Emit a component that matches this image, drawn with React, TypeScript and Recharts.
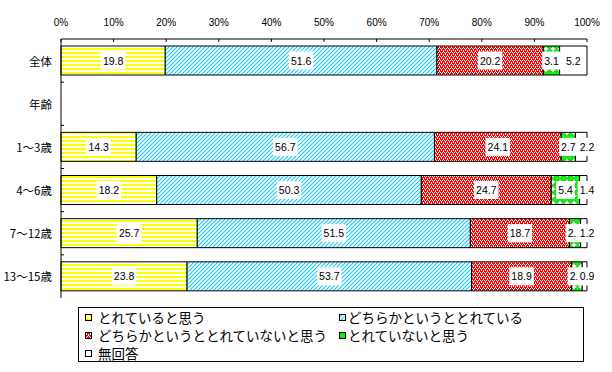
import React from 'react';
import { BarChart, Bar, XAxis, YAxis, LabelList, Legend } from 'recharts';

const categories = ['全体', '年齢', '1～3歳', '4～6歳', '7～12歳', '13～15歳'];
const seriesNames = [
  'とれていると思う',
  'どちらかというととれている',
  'どちらかというととれていないと思う',
  'とれていないと思う',
  '無回答',
];
const thinkSo = [19.8, null, 14.3, 18.2, 25.7, 23.8];
const ratherSo = [51.6, null, 56.7, 50.3, 51.5, 53.7];
const ratherNot = [20.2, null, 24.1, 24.7, 18.7, 18.9];
const notSo = [3.1, null, 2.7, 5.4, 2.1, 2.0];
const noAnswer = [5.2, null, 2.2, 1.4, 1.2, 0.9];
const percentTicks = [0, 10, 20, 30, 40, 50, 60, 70, 80, 90, 100];

const seriesValues = [thinkSo, ratherSo, ratherNot, notSo, noAnswer];
const seriesKeys = ['s0', 's1', 's2', 's3', 's4'];
const seriesFills = ['url(#pYellow)', 'url(#pCyan)', 'url(#pRed)', 'url(#pGreen)', '#ffffff'];

const data = categories.map((name, i) => {
  const row: Record<string, any> = { name };
  seriesKeys.forEach((k, s) => {
    row[k] = seriesValues[s][i];
  });
  return row;
});

const FONT = "'Liberation Sans', 'Noto Sans CJK JP', sans-serif";
const JP_FONT = "'Noto Sans CJK JP', sans-serif";

const W = 612;
const H = 372;
const M = { top: 0, right: 25, bottom: 74, left: 0 };
const X_AXIS_H = 39;
const Y_AXIS_W = 61;
const BAND = (H - M.top - M.bottom - X_AXIS_H) / categories.length;

const textWidth = (s: string, fs: number) =>
  s.split('').reduce((w, c) => w + (c === '.' ? 0.278 : 0.556) * fs, 0);

const ValueLabel = (props: any) => {
  const { x, y, width, height, value, last } = props;
  if (value == null || value === 0) return null;
  const txt = Number(value).toFixed(1);
  const fs = 10.5;
  const tw = textWidth(txt, fs);
  // the last (white) segment is often too thin: its label then sits on the bar's end
  const cx = last && width < tw ? x + width : x + width / 2;
  const cy = y + height / 2;
  return (
    <g>
      <rect x={cx - tw / 2 - 2} y={cy - 9} width={tw + 4} height={18} fill="#fff" />
      <text x={cx} y={cy} textAnchor="middle" dominantBaseline="central" fontSize={fs} fontFamily={FONT} fill="#000">
        {txt}
      </text>
    </g>
  );
};

const XTick = (props: any) => {
  const { x, y, payload } = props;
  return (
    <g>
      <text x={x} y={y - 16.3} textAnchor="middle" dominantBaseline="central" fontSize={10} fontFamily={FONT} fill="#000">
        {Math.round(payload.value * 100)}%
      </text>
      <line x1={x} y1={y} x2={x} y2={y + 3} stroke="#000" />
    </g>
  );
};

const YTick = (props: any) => {
  const { x, y, payload, index } = props;
  return (
    <g>
      <text x={x - 9} y={y} textAnchor="end" dominantBaseline="central" fontSize={11.5} fontFamily={JP_FONT} fill="#000">
        {payload.value}
      </text>
      {index < categories.length - 1 && (
        <line x1={x} y1={y + BAND / 2} x2={x + 3} y2={y + BAND / 2} stroke="#000" />
      )}
    </g>
  );
};

const legendSpots = [
  { left: 6, top: 0 },
  { left: 260, top: 0 },
  { left: 6, top: 18 },
  { left: 260, top: 18 },
  { left: 6, top: 36 },
];

const LegendBox = () => (
  <div
    style={{
      position: 'relative',
      width: 506,
      height: 55,
      border: '1px solid #000',
      boxSizing: 'border-box',
      background: '#fff',
      fontFamily: JP_FONT,
      fontSize: 13.5,
      color: '#000',
    }}
  >
    {seriesNames.map((n, i) => (
      <div
        key={n}
        style={{
          position: 'absolute',
          left: legendSpots[i].left,
          top: legendSpots[i].top,
          height: 18,
          lineHeight: '18px',
          display: 'flex',
          alignItems: 'center',
          whiteSpace: 'nowrap',
        }}
      >
        <svg width={7} height={7} style={{ marginRight: i % 2 === 0 ? 6 : 2 }}>
          <rect x={0.5} y={0.5} width={6} height={6} fill={seriesFills[i]} stroke="#000" />
        </svg>
        <span>{n}</span>
      </div>
    ))}
  </div>
);

export default function App() {
  return (
    <div style={{ position: 'relative', width: W, height: H, background: '#fff' }}>
      <style>{'body{margin:0;}'}</style>
      <BarChart
        width={W}
        height={H}
        data={data}
        layout="vertical"
        stackOffset="expand"
        margin={M}
        barSize={29}
      >
        <defs>
          <pattern id="pYellow" width="4" height="4" patternUnits="userSpaceOnUse">
            <rect width="4" height="4" fill="#fff" />
            <rect width="4" height="2" fill="#ffff00" />
          </pattern>
          <pattern id="pCyan" width="4" height="4" patternUnits="userSpaceOnUse">
            <rect width="4" height="4" fill="#fff" />
            <path d="M-1,1 l2,-2 M0,4 l4,-4 M3,5 l2,-2" stroke="#11ccff" strokeWidth="1.1" />
          </pattern>
          <pattern id="pRed" width="4" height="4" patternUnits="userSpaceOnUse">
            <rect width="4" height="4" fill="#ff0000" />
            <rect x="0" y="0" width="1" height="1" fill="#fff" />
            <rect x="2" y="0" width="1" height="1" fill="#fff" />
            <rect x="1" y="1" width="1" height="1" fill="#fff" />
            <rect x="1" y="2" width="1" height="1" fill="#fff" />
            <rect x="3" y="2" width="1" height="1" fill="#fff" />
            <rect x="3" y="3" width="1" height="1" fill="#fff" />
          </pattern>
          <pattern id="pGreen" width="7" height="7" patternUnits="userSpaceOnUse">
            <rect width="7" height="7" fill="#fff" />
            <circle cx="3.5" cy="3.5" r="3" fill="#00ff00" stroke="#009900" strokeWidth="0.7" />
          </pattern>
        </defs>
        <XAxis
          type="number"
          orientation="top"
          domain={[0, 1]}
          ticks={percentTicks.map((t) => t / 100)}
          height={X_AXIS_H}
          tickSize={0}
          tickMargin={0}
          tickLine={false}
          axisLine={{ stroke: '#000' }}
          tick={<XTick />}
          interval={0}
        />
        <YAxis
          type="category"
          dataKey="name"
          width={Y_AXIS_W}
          tickSize={0}
          tickMargin={0}
          tickLine={false}
          axisLine={{ stroke: '#000' }}
          tick={<YTick />}
          interval={0}
        />
        {seriesKeys.map((k, i) => (
          <Bar
            key={k}
            dataKey={k}
            name={seriesNames[i]}
            stackId="a"
            fill={seriesFills[i]}
            stroke="#000"
            strokeWidth={1}
            isAnimationActive={false}
          >
            <LabelList dataKey={k} content={<ValueLabel last={i === seriesKeys.length - 1} />} />
          </Bar>
        ))}
        <Legend
          layout="horizontal"
          verticalAlign="middle"
          align="center"
          content={() => <LegendBox />}
          wrapperStyle={{ position: 'absolute', left: 78, top: 307, width: 506, height: 55 }}
        />
      </BarChart>
    </div>
  );
}
